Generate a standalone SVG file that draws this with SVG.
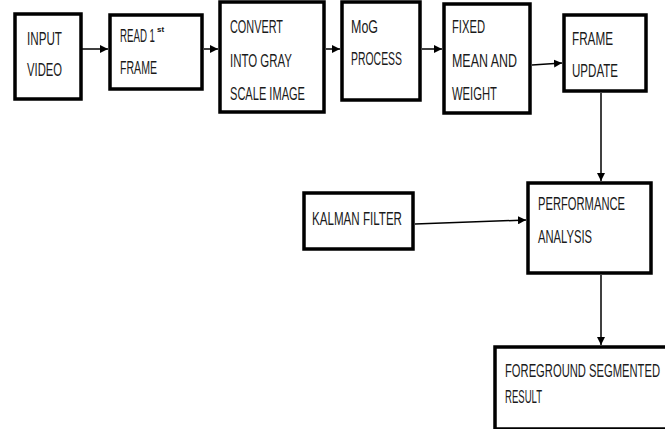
<svg xmlns="http://www.w3.org/2000/svg" width="665" height="429" viewBox="0 0 665 429">
<defs>
<style>
.box{fill:#fff;stroke:#000;stroke-width:3.5}
.t{font-family:"Liberation Sans Narrow","Liberation Sans",Arial,sans-serif;font-size:18px;fill:#1a1a1a}
.sup{font-family:"Liberation Sans",Arial,sans-serif;font-size:8px;font-weight:bold;fill:#111}
.c{stroke:#000;stroke-width:1.5;fill:none;marker-end:url(#ah)}
</style>
<marker id="ah" viewBox="0 0 10 10" refX="10" refY="5" markerWidth="8" markerHeight="8" markerUnits="userSpaceOnUse" orient="auto">
<path d="M0,0 L10,5 L0,10 z" fill="#000"/>
</marker>
</defs>
<rect width="665" height="429" fill="#fff"/>
<g id="connectors">
<line class="c" x1="81" y1="49" x2="108" y2="49"/>
<line class="c" x1="204" y1="49" x2="218" y2="49"/>
<line class="c" x1="326" y1="49" x2="340" y2="49"/>
<line class="c" x1="422" y1="49" x2="442" y2="49"/>
<line class="c" x1="532" y1="65" x2="562" y2="63"/>
<line class="c" x1="601" y1="93" x2="601" y2="181"/>
<line class="c" x1="415" y1="224" x2="526" y2="220"/>
<line class="c" x1="601" y1="275" x2="601" y2="345"/>
</g>
<g id="input-video">
<rect class="box" x="15" y="14" width="66" height="85"/>
<text class="t" x="27" y="45" textLength="35" lengthAdjust="spacingAndGlyphs">INPUT</text>
<text class="t" x="27" y="76" textLength="35" lengthAdjust="spacingAndGlyphs">VIDEO</text>
</g>
<g id="read-frame">
<rect class="box" x="110" y="15" width="92" height="74"/>
<text class="t" x="120" y="42" textLength="35" lengthAdjust="spacingAndGlyphs">READ 1</text>
<text class="sup" x="157" y="32">st</text>
<text class="t" x="120" y="74" textLength="37" lengthAdjust="spacingAndGlyphs">FRAME</text>
</g>
<g id="convert-gray">
<rect class="box" x="220" y="2" width="104" height="110"/>
<text class="t" x="230" y="33" textLength="53" lengthAdjust="spacingAndGlyphs">CONVERT</text>
<text class="t" x="230" y="67" textLength="62" lengthAdjust="spacingAndGlyphs">INTO GRAY</text>
<text class="t" x="230" y="100" textLength="75" lengthAdjust="spacingAndGlyphs">SCALE IMAGE</text>
</g>
<g id="mog-process">
<rect class="box" x="342" y="2" width="78" height="98"/>
<text class="t" x="351" y="33" textLength="27" lengthAdjust="spacingAndGlyphs">MoG</text>
<text class="t" x="351" y="65" textLength="51" lengthAdjust="spacingAndGlyphs">PROCESS</text>
</g>
<g id="fixed-mean">
<rect class="box" x="444" y="4" width="86" height="109"/>
<text class="t" x="452" y="33" textLength="33" lengthAdjust="spacingAndGlyphs">FIXED</text>
<text class="t" x="452" y="67" textLength="65" lengthAdjust="spacingAndGlyphs">MEAN AND</text>
<text class="t" x="452" y="100" textLength="45" lengthAdjust="spacingAndGlyphs">WEIGHT</text>
</g>
<g id="frame-update">
<rect class="box" x="564" y="15" width="82" height="76"/>
<text class="t" x="572" y="45" textLength="41" lengthAdjust="spacingAndGlyphs">FRAME</text>
<text class="t" x="572" y="77" textLength="46" lengthAdjust="spacingAndGlyphs">UPDATE</text>
</g>
<g id="kalman-filter">
<rect class="box" x="304" y="193" width="109" height="56"/>
<text class="t" x="312" y="225" textLength="90" lengthAdjust="spacingAndGlyphs">KALMAN FILTER</text>
</g>
<g id="performance-analysis">
<rect class="box" x="528" y="183" width="123" height="90"/>
<text class="t" x="538" y="210" textLength="87" lengthAdjust="spacingAndGlyphs">PERFORMANCE</text>
<text class="t" x="538" y="243" textLength="54" lengthAdjust="spacingAndGlyphs">ANALYSIS</text>
</g>
<g id="foreground-result">
<rect class="box" x="495" y="347" width="200" height="82"/>
<text class="t" x="505" y="377" textLength="155" lengthAdjust="spacingAndGlyphs">FOREGROUND SEGMENTED</text>
<text class="t" x="505" y="403" textLength="37" lengthAdjust="spacingAndGlyphs">RESULT</text>
</g>
</svg>
